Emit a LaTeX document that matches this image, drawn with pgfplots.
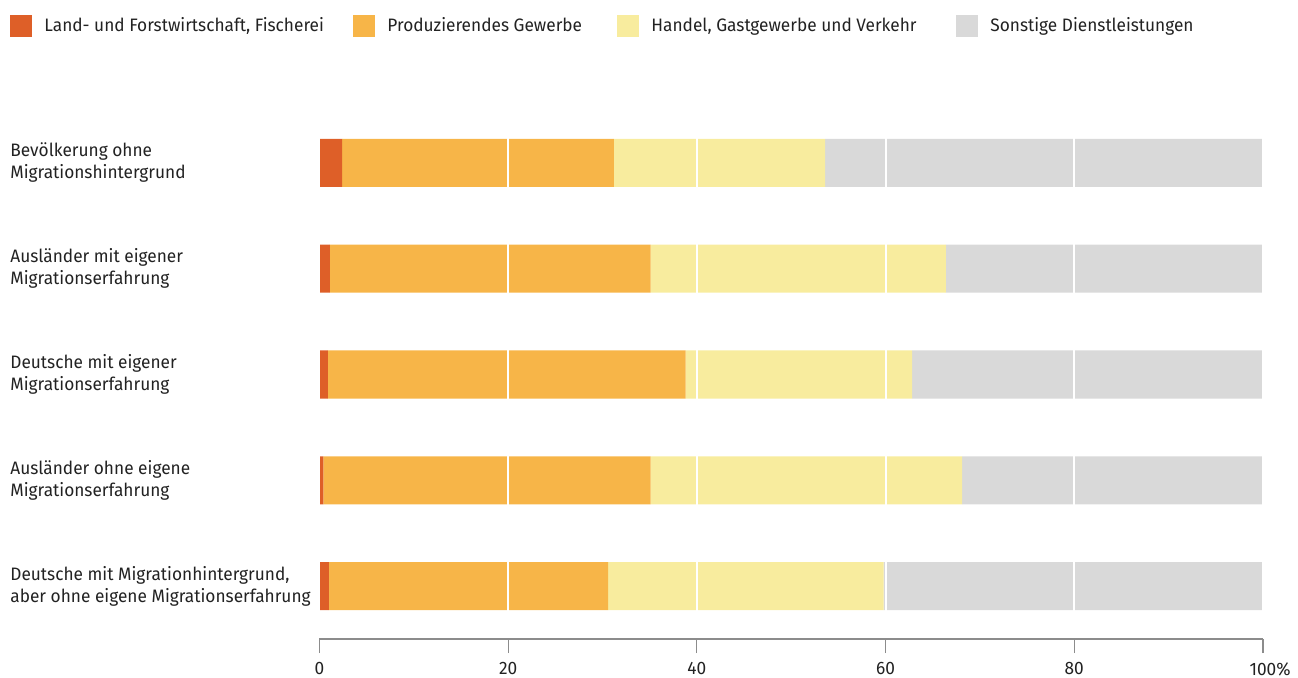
\documentclass[border=0pt]{standalone}
\usepackage{fontspec}
\setmainfont[FakeStretch=0.96]{Fira Sans}
\usepackage{pgfplots}
\pgfplotsset{compat=1.18}

\definecolor{landw}{HTML}{DE5F28}
\definecolor{prodg}{HTML}{F7B548}
\definecolor{handel}{HTML}{F8EC9E}
\definecolor{sonst}{HTML}{D9D9D9}
\definecolor{txt}{HTML}{222222}
\definecolor{axgrey}{HTML}{8C8C8C}

\begin{document}
\begin{tikzpicture}
% 1 px of the reference = 0.5pt
\useasboundingbox (-159.75pt,-19pt) rectangle (489.25pt,319.5pt);
\begin{axis}[
  at={(0,0)}, anchor=south west,
  width=471.75pt, height=264.5pt, scale only axis,
  font=\fontsize{9}{11}\selectfont, text=txt,
  xbar stacked, bar width=0.454,
  xmin=0, xmax=100, ymin=-0.5, ymax=4.5, y dir=reverse,
  axis x line*=bottom, axis y line*=left,
  x axis line style={-, draw=axgrey, line width=0.6pt},
  y axis line style={draw=none},
  xtick={0,20,40,60,80,100},
  xticklabels={0,20,40,60,80,100\rlap{\%}},
  tick align=outside, major tick length=7pt,
  xtick style={draw=axgrey, line width=0.6pt},
  ytick={0,1,2,3,4}, ytick style={draw=none},
  yticklabels={
    {Bevölkerung ohne\\Migrationshintergrund},
    {Ausländer mit eigener\\Migrationserfahrung},
    {Deutsche mit eigener\\Migrationserfahrung},
    {Ausländer ohne eigene\\Migrationserfahrung},
    {Deutsche mit Migrationhintergrund,\\aber ohne eigene Migrationserfahrung}},
  yticklabel style={align=left, anchor=west, inner sep=0pt, xshift=-147.75pt},
  xticklabel style={inner sep=0pt, yshift=-4.5pt},
  xmajorgrids, grid style={white, line width=1pt},
  axis on top,
  legend columns=4,
  legend style={at={(-0.328,1.1588)}, anchor=west, draw=none, fill=none,
    inner sep=0pt, font=\fontsize{9}{11}\selectfont,
    nodes={inner sep=0pt, text=txt},
    /tikz/every odd column/.append style={column sep=6pt},
    /tikz/every even column/.append style={column sep=0pt}},
  legend image code/.code={\fill[#1] (0pt,-5.5pt) rectangle (11pt,5.5pt);},
]
\addplot[fill=landw, draw=none] coordinates {(2.4,0) (1.1,1) (0.9,2) (0.4,3) (1.0,4)};
\addlegendentry{\makebox[154.5pt][l]{Land- und Forstwirtschaft, Fischerei}}
\addplot[fill=prodg, draw=none] coordinates {(28.8,0) (34.0,1) (37.9,2) (34.7,3) (29.6,4)};
\addlegendentry{\makebox[115pt][l]{Produzierendes Gewerbe}}
\addplot[fill=handel, draw=none] coordinates {(22.4,0) (31.3,1) (24.0,2) (33.0,3) (29.2,4)};
\addlegendentry{\makebox[152.5pt][l]{Handel, Gastgewerbe und Verkehr}}
\addplot[fill=sonst, draw=none] coordinates {(46.4,0) (33.6,1) (37.2,2) (31.9,3) (40.2,4)};
\addlegendentry{Sonstige Dienstleistungen}
\end{axis}
\end{tikzpicture}
\end{document}
